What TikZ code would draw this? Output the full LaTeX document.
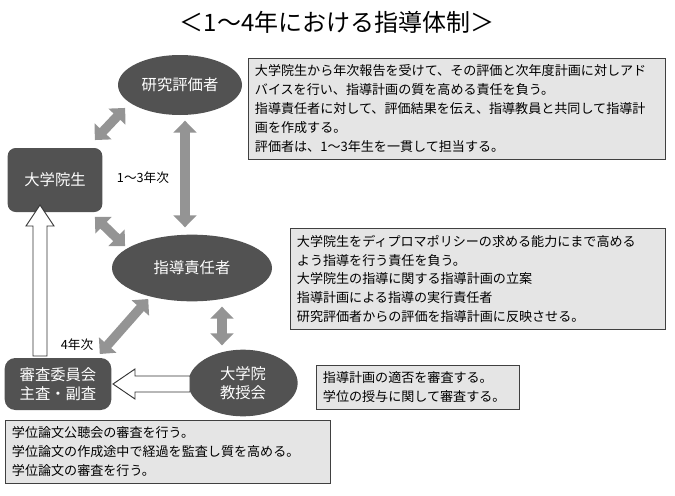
\documentclass[tikz,border=0pt]{standalone}
\usepackage{fontspec}
\setmainfont{Noto Sans CJK JP}
\usetikzlibrary{shapes.geometric,arrows.meta}
\begin{document}
\begin{tikzpicture}[x=0.75pt,y=-0.75pt,
  dark/.style={fill=black!68,text=white,font=\fontsize{11.5}{14}\selectfont},
  ell/.style={dark,ellipse,inner sep=0pt},
  box/.style={draw=black!75,fill=black!10,align=left,anchor=north west,inner sep=5pt,font=\fontsize{9.8}{14.2}\selectfont},
  garrow/.style={draw=black!42,line width=7pt,{Triangle[length=9pt,width=17pt]}-{Triangle[length=9pt,width=17pt]},shorten <=2pt,shorten >=2pt},
  hollow/.style={draw=black!80,fill=white,line width=0.7pt}]
\useasboundingbox (0,0) rectangle (675,496);
\node[font=\fontsize{18}{21}\selectfont] (title) at (337,22) {＜1～4年における指導体制＞};
\node[ell,minimum width=93pt,minimum height=45pt] (hyoka) at (180,85) {研究評価者};
\node[ell,minimum width=120pt,minimum height=50pt] (sekinin) at (192,268) {指導責任者};
\node[ell,minimum width=82pt,minimum height=50pt,align=center] (kyoju) at (243,383) {大学院\\教授会};
\node[dark,rounded corners=6pt,minimum width=71pt,minimum height=48pt] (gakusei) at (55,180) {大学院生};
\node[dark,rounded corners=8pt,minimum width=80pt,minimum height=39pt,align=center] (shinsa) at (58,384) {審査委員会\\主査・副査};
\node[box,text width=303pt] (b1) at (248,58) {大学院生から年次報告を受けて、その評価と次年度計画に対しアド\\バイスを行い、指導計画の質を高める責任を負う。\\指導責任者に対して、評価結果を伝え、指導教員と共同して指導計\\画を作成する。\\評価者は、1～3年生を一貫して担当する。};
\node[box,text width=271pt] (b2) at (290,228) {大学院生をディプロマポリシーの求める能力にまで高める\\よう指導を行う責任を負う。\\大学院生の指導に関する指導計画の立案\\指導計画による指導の実行責任者\\研究評価者からの評価を指導計画に反映させる。};
\node[box,text width=142pt] (b3) at (316,365) {指導計画の適否を審査する。\\学位の授与に関して審査する。};
\node[box,text width=234pt] (b4) at (5,420) {学位論文公聴会の審査を行う。\\学位論文の作成途中で経過を監査し質を高める。\\学位論文の審査を行う。};
\node[font=\fontsize{9.5}{11}\selectfont] (y13) at (143,178) {1～3年次};
\node[font=\fontsize{9.5}{11}\selectfont] (y4) at (77,345) {4年次};
\coordinate (a1) at (93,142); \coordinate (a2) at (127,106);
\coordinate (c1) at (185,118); \coordinate (c2) at (185,230);
\coordinate (d1) at (93,215); \coordinate (d2) at (127,248);
\coordinate (e1) at (150,297); \coordinate (e2) at (98,356);
\coordinate (f1) at (222,304); \coordinate (f2) at (222,348);
\draw[garrow] (a1) -- (a2);
\draw[garrow] (c1) -- (c2);
\draw[garrow] (d1) -- (d2);
\draw[garrow] (e1) -- (e2);
\draw[garrow] (f1) -- (f2);
\draw[hollow] (190,376) -- (135,376) -- (135,369) -- (113,384) -- (135,399) -- (135,392) -- (190,392) -- cycle;
\draw[hollow] (33,356) -- (33,226) -- (26,226) -- (40,205) -- (54,226) -- (47,226) -- (47,356) -- cycle;
\end{tikzpicture}
\end{document}
